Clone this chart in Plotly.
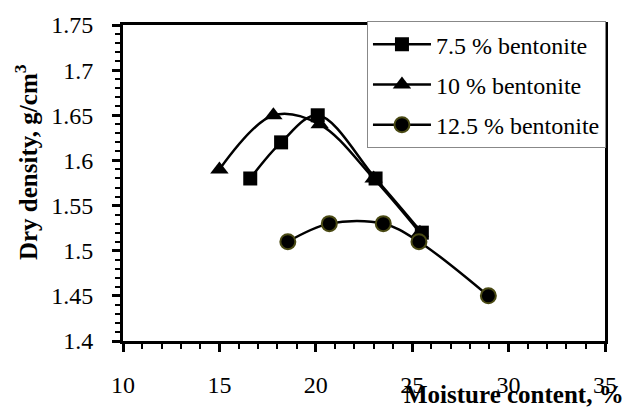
import plotly.graph_objects as go

# Data
names = ["7.5 % bentonite", "10 % bentonite", "12.5 % bentonite"]
moisture_75 = [16.6, 18.2, 20.1, 23.1, 25.5]
density_75 = [1.58, 1.62, 1.65, 1.58, 1.52]
moisture_10 = [15.0, 17.8, 20.2, 23.0, 25.4]
density_10 = [1.59, 1.65, 1.64, 1.58, 1.52]
moisture_125 = [18.55, 20.7, 23.5, 25.35, 28.95]
density_125 = [1.51, 1.53, 1.53, 1.51, 1.45]

x_ticks = [10, 15, 20, 25, 30, 35]
y_ticks = [1.4, 1.45, 1.5, 1.55, 1.6, 1.65, 1.7, 1.75]

FONT = "Liberation Serif"

fig = go.Figure()
series = [
    (moisture_75, density_75, names[0], "square", 14, "black"),
    (moisture_10, density_10, names[1], "triangle-up", 16, "black"),
    (moisture_125, density_125, names[2], "circle", 15, "#4a4a14"),
]
for i, (xs, ys, nm, sym, sz, lc) in enumerate(series):
    fig.add_trace(go.Scatter(
        x=xs, y=ys, name=nm, mode="lines+markers",
        legendgroup=f"g{i}",
        line=dict(color="black", width=2.5, shape="spline", smoothing=1.0),
        marker=dict(symbol=sym, size=sz, color="black",
                    line=dict(color=lc, width=2 if sym == "circle" else 0)),
    ))

axis_common = dict(
    showline=True, linecolor="black", linewidth=3, mirror=True,
    ticks="outside", ticklen=8, tickwidth=2.5, tickcolor="black",
    showgrid=False, zeroline=False,
    tickfont=dict(family=FONT, size=24, color="black"),
)

fig.update_xaxes(
    range=[10, 35], tickvals=x_ticks, ticktext=[str(v) for v in x_ticks],
    minor=dict(dtick=1, ticks="outside", ticklen=5, tickwidth=2, tickcolor="black"),
    ticklabelstandoff=12,
    **axis_common,
)
fig.update_yaxes(
    range=[1.4, 1.75], tickvals=y_ticks, ticktext=[f"{v:g}" for v in y_ticks],
    minor=dict(dtick=0.01, ticks="outside", ticklen=5, tickwidth=2, tickcolor="black"),
    ticklabelstandoff=14,
    **axis_common,
)

fig.add_annotation(
    text="<b>Moisture content, %</b>", xref="paper", yref="paper",
    x=1.043, y=-0.17, xanchor="right", yanchor="middle", showarrow=False,
    font=dict(family=FONT, size=25, color="black"),
)
fig.add_annotation(
    text="<b>Dry density, g/cm<sup>3</sup></b>", xref="paper", yref="paper",
    x=-0.2, y=0.565, xanchor="center", yanchor="middle", showarrow=False,
    textangle=-90,
    font=dict(family=FONT, size=25, color="black"),
)

fig.update_layout(
    width=637, height=410,
    margin=dict(l=123, r=32, t=22, b=66),
    paper_bgcolor="white", plot_bgcolor="white",
    font=dict(family=FONT, size=24, color="black"),
    showlegend=True,
    legend=dict(
        x=1.002, y=1.012, xanchor="right", yanchor="top",
        bgcolor="white", bordercolor="#888888", borderwidth=1,
        font=dict(family=FONT, size=24, color="black"),
        traceorder="grouped", tracegroupgap=6, itemwidth=58,
    ),
)

fig.write_html("out.html")
